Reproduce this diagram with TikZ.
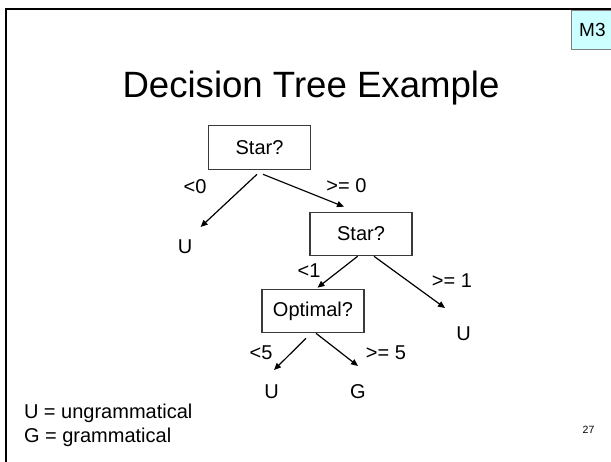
\documentclass[tikz,border=0pt]{standalone}
\usepackage{fontspec}
\setmainfont{Liberation Sans}
\usetikzlibrary{calc,arrows.meta}
\definecolor{tagfill}{HTML}{CCFFFF}
\definecolor{tagline}{HTML}{7F7F7F}
\definecolor{boxline}{HTML}{3A3A3A}
\tikzset{
  txt/.style={inner sep=0pt, outer sep=0pt, font=\fontsize{20}{24}\selectfont},
  testbox/.style={draw=boxline, line width=1.1pt, minimum width=102pt, minimum height=43.5pt,
                  inner sep=0pt, font=\fontsize{20}{24}\selectfont},
  arr/.style={line width=1.2pt, -{Triangle[length=7pt,width=6pt]}},
}
\begin{document}
\begin{tikzpicture}[x=1pt,y=-1pt]
  \useasboundingbox (0,0) rectangle (611,462);
  \fill[white] (0,0) rectangle (611,462);

  % slide tag in the corner
  \node[draw=tagline, fill=tagfill, line width=0.8pt, minimum width=42pt, minimum height=39pt,
        inner sep=0pt, anchor=north west, font=\fontsize{19}{22}\selectfont] (tag) at (571,10) {M3};

  % slide frame (top and left edges)
  \draw[line width=2.6pt] (6,462) -- (6,9.2) -- (611,9.2);

  % title
  \node[inner sep=0pt, anchor=base, font=\fontsize{36.6}{40}\selectfont] (title) at (311,98) {Decision Tree Example};

  % decision nodes
  \node[testbox] (s1) at (259.5,147.5) {Star?};
  \node[testbox] (s2) at (361,234) {Star?};
  \node[testbox] (opt) at (313,311) {Optimal?};

  % leaves
  \node[txt, anchor=base] (uL) at (185,254) {U};
  \node[txt, anchor=base] (uR) at (463.6,340.7) {U};
  \node[txt, anchor=base] (uB) at (271.5,399) {U};
  \node[txt, anchor=base] (gB) at (358,399) {G};

  % branches
  \draw[arr] ($(s1.south)+(-2.5,4.5)$) -- ($(uL.base)+(15.6,-27)$);
  \draw[arr] ($(s1.south)+(3.5,4.5)$) -- ($(s2.north)+(-17,-5)$);
  \draw[arr] ($(s2.south)+(-3.4,0)$) -- ($(opt.north)+(4.5,-1)$);
  \draw[arr] ($(s2.south)+(13,0)$) -- ($(uR.base)+(-18.6,-32.7)$);
  \draw[arr] ($(opt.south)+(-7,5)$) -- ($(uB.base)+(2.5,-29)$);
  \draw[arr] ($(opt.south)+(3,0)$) -- ($(gB.base)+(0,-33)$);

  % branch labels
  \node[txt, anchor=base] (l1) at (195,193.3) {<0};
  \node[txt, anchor=base] (l2) at (346.5,192.3) {>= 0};
  \node[txt, anchor=base] (l3) at (309,278) {<1};
  \node[txt, anchor=base] (l4) at (452,288) {>= 1};
  \node[txt, anchor=base] (l5) at (261,360) {<5};
  \node[txt, anchor=base] (l6) at (386,360) {>= 5};

  % legend
  \node[txt, anchor=base west] (key1) at (24,418.3) {U = ungrammatical};
  \node[txt, anchor=base west] (key2) at (24,442.7) {G = grammatical};

  % page number
  \node[inner sep=0pt, anchor=base, font=\fontsize{10.5}{12}\selectfont] (page) at (588.5,434) {27};
\end{tikzpicture}
\end{document}
